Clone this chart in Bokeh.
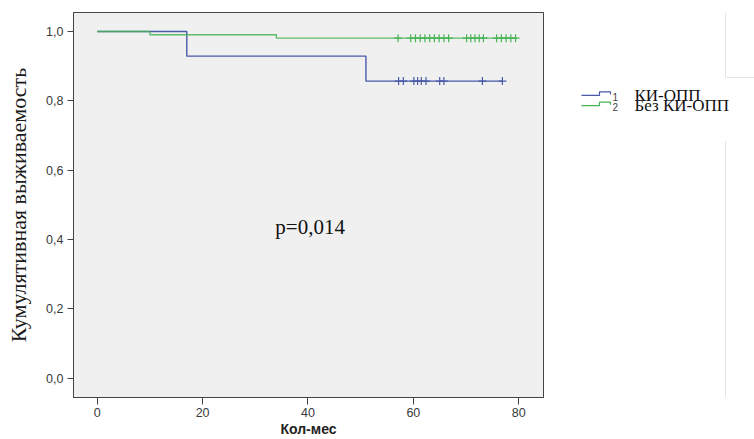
from bokeh.plotting import figure
from bokeh.layouts import row
from bokeh.models import Range1d, FixedTicker, CustomJSTickFormatter, Label
from bokeh.core.properties import value
from bokeh.embed import file_html
from bokeh.resources import INLINE

# Kaplan-Meier estimates: step times (months) and survival after each step
group1_times = [0, 17, 51, 76.9]
group1_surv = [1.0, 0.929, 0.857, 0.857]
group1_censored = [57.2, 58.1, 60.1, 60.8, 61.5, 62.4, 65.0, 65.8, 73.1, 76.9]

group2_times = [0, 10, 34, 79.6]
group2_surv = [1.0, 0.991, 0.981, 0.981]
group2_censored = [57.1, 59.5, 60.4, 61.3, 62.2, 63.1, 64.0, 64.9, 65.8, 66.7,
                   70.1, 70.9, 71.7, 72.5, 73.3, 75.8, 76.7, 77.6, 78.5, 79.4]

group_codes = ["1", "2"]
group_names = ["КИ-ОПП", "Без КИ-ОПП"]
x_ticks = [0, 20, 40, 60, 80]
y_ticks = [0.0, 0.2, 0.4, 0.6, 0.8, 1.0]
p_value_text = "p=0,014"
y_title = "Кумулятивная выживаемость"
x_title = "Кол-мес"

BLUE = "#4a5aa8"
GREEN = "#47b356"
SANS = "Liberation Sans"
SERIF = "Liberation Serif"


def surv_at(times, surv, t):
    s = surv[0]
    for ti, si in zip(times, surv):
        if ti <= t:
            s = si
    return s


p = figure(width=560, height=439, output_backend="svg", toolbar_location=None,
           x_range=Range1d(-4.5, 84.7), y_range=Range1d(-0.056, 1.055),
           min_border_left=73, min_border_right=17, min_border_top=12,
           min_border_bottom=42)
p.background_fill_color = "#f0f0f0"
p.border_fill_color = "white"
p.outline_line_color = "#444444"
p.outline_line_width = 1
p.xgrid.visible = False
p.ygrid.visible = False

for ax in (p.xaxis, p.yaxis):
    ax.axis_line_color = "#444444"
    ax.major_tick_line_color = "#444444"
    ax.major_tick_in = 0
    ax.minor_tick_line_color = None
    ax.major_label_text_font = SANS
    ax.major_label_text_font_size = "12.5px"
    ax.major_label_text_color = "#3a3a3a"

p.xaxis.ticker = FixedTicker(ticks=x_ticks)
p.xaxis.major_tick_out = 7
p.xaxis.major_label_standoff = 3
p.xaxis.axis_label = x_title
p.xaxis.axis_label_text_font = SANS
p.xaxis.axis_label_text_font_style = "bold"
p.xaxis.axis_label_text_font_size = "14px"
p.xaxis.axis_label_text_color = "#222222"
p.xaxis.axis_label_standoff = 1

p.yaxis.ticker = FixedTicker(ticks=y_ticks)
p.yaxis.major_tick_out = 6
p.yaxis.major_label_standoff = 4
p.yaxis.formatter = CustomJSTickFormatter(code="return tick.toFixed(1).replace('.', ',');")
p.yaxis.axis_label = y_title
p.yaxis.axis_label_text_font = SERIF
p.yaxis.axis_label_text_font_style = "normal"
p.yaxis.axis_label_text_font_size = "22px"
p.yaxis.axis_label_text_color = "#1a1a1a"
p.yaxis.axis_label_standoff = 12

# survival curves
p.step(group1_times, group1_surv, mode="after", line_color=BLUE, line_width=1.4)
p.step(group2_times, group2_surv, mode="after", line_color=GREEN, line_width=1.4,
       line_alpha=0.85)

# censoring marks
c1_y = [surv_at(group1_times, group1_surv, t) for t in group1_censored]
c2_y = [surv_at(group2_times, group2_surv, t) for t in group2_censored]
p.scatter(group1_censored, c1_y, marker="cross", size=8, line_color=BLUE, line_width=1.2)
p.scatter(group2_censored, c2_y, marker="cross", size=8, line_color=GREEN, line_width=1.2)

p.add_layout(Label(x=33.8, y=0.436, text=p_value_text, text_font=SERIF,
                   text_font_size="21px", text_color="#111111",
                   text_baseline="alphabetic", text_align="left"))

# legend panel on the right, in pixel coordinates
lg = figure(width=194, height=439, output_backend="svg", toolbar_location=None,
            x_range=Range1d(560, 754), y_range=Range1d(439, 0),
            min_border=0)
lg.axis.visible = False
lg.xgrid.visible = False
lg.ygrid.visible = False
lg.outline_line_color = None
lg.background_fill_color = "white"
lg.border_fill_color = "white"

# faint page edge on the far right
lg.line([725, 725, 754], [0, 74, 74], line_color="#e4e4e4", line_width=1)
lg.line([725, 725], [147, 439], line_color="#e4e4e4", line_width=1)

colors = [BLUE, GREEN]
for i, (code, name) in enumerate(zip(group_codes, group_names)):
    base = 94.5 + i * 11.8
    lg.line([581, 599, 599, 610, 610], [base, base, base - 4, base - 4, base - 1],
            line_color=colors[i], line_width=1.2)
    lg.text(x=[612], y=[base + 1.5], text=[code], text_font=value(SANS),
            text_font_size="10px", text_color="#444444", text_baseline="alphabetic")
    lg.text(x=[634], y=[base], text=[name], text_font=value(SERIF),
            text_font_size="17px", text_color="#111111", text_baseline="alphabetic")

layout = row(p, lg)
open("out.html", "w").write(file_html(layout, INLINE))
